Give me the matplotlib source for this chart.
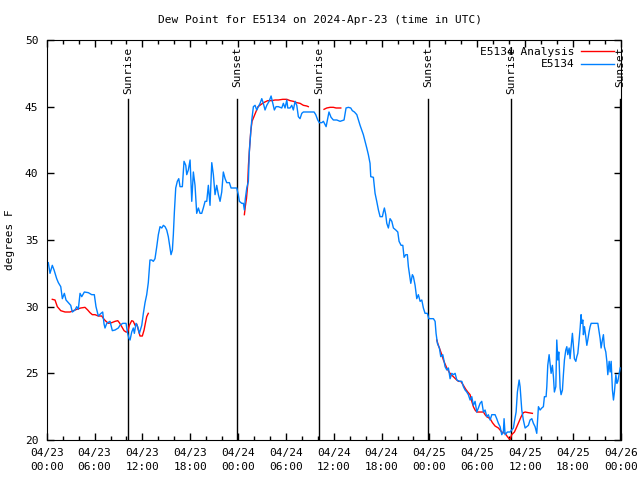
import numpy as np
import matplotlib.pyplot as plt

# hours since 2024-04-23 00:00 UTC, dew point (F)
obs_hours = [0.2, 0.41, 0.70, 0.92, 1.25, 1.46, 1.76, 1.96, 2.21, 2.42, 2.71, 3.01, 3.21, 3.55, 3.76, 3.96,
             4.18, 4.39, 4.72, 5.22, 5.64, 5.97, 6.18, 6.47, 6.81, 7.02, 7.19, 7.31, 7.53, 7.94, 8.23, 8.57,
             8.98, 9.19, 9.53, 9.95, 10.11, 10.32, 10.45, 10.66, 10.86, 10.99, 11.20, 11.41, 11.62, 11.92,
             12.12, 12.33, 12.54, 12.74, 12.95, 13.17, 13.37, 13.58, 13.80, 14.00, 14.21, 14.43, 14.63, 14.84,
             15.05, 15.25, 15.47, 15.59, 15.76, 15.88, 16.01, 16.18, 16.38, 16.56, 16.72, 17.01, 17.22, 17.44,
             17.56, 17.76, 17.98, 18.19, 18.39, 18.60, 18.81, 19.02, 19.23, 19.44, 19.64, 19.86, 20.07, 20.27,
             20.48, 20.70, 20.90, 21.11, 21.32, 21.53, 21.74, 21.95, 22.15, 22.37, 22.58, 22.91, 23.12, 23.41,
             23.83, 24.03, 24.16, 24.46, 24.66, 24.79, 24.91, 25.09, 25.29, 25.41, 25.59, 25.72, 25.92, 26.13,
             26.34, 26.54, 26.76, 26.97, 27.17, 27.38, 27.60, 27.89, 28.14, 28.35, 28.55, 28.76, 29.05, 29.48,
             29.68, 29.89, 30.11, 30.23, 30.52, 30.73, 30.93, 31.15, 31.36, 31.56, 31.77, 31.99, 32.19, 32.61,
             33.03, 33.53, 33.74, 33.99, 34.19, 34.50, 34.70, 35.04, 35.40, 35.66, 35.95, 36.38, 36.79, 37.29,
             37.54, 37.83, 38.13, 38.33, 38.59, 38.89, 39.09, 39.30, 39.51, 39.71, 39.93, 40.14, 40.34, 40.55,
             40.64, 40.97, 41.18, 41.39, 41.60, 41.81, 42.10, 42.22, 42.35, 42.52, 42.65, 42.85, 43.06, 43.28,
             43.48, 43.78, 44.03, 44.19, 44.44, 44.66, 44.82, 45.03, 45.23, 45.36, 45.57, 45.66, 45.86, 45.99,
             46.20, 46.41, 46.61, 46.83, 47.04, 47.24, 47.45, 47.74, 47.92, 48.29, 48.50, 48.71, 48.83, 49.00,
             49.25, 49.42, 49.67, 49.84, 49.96, 50.18, 50.38, 50.59, 50.80, 51.00, 51.22, 51.43, 51.76, 52.06,
             52.26, 52.47, 52.68, 52.88, 53.10, 53.31, 53.51, 53.72, 53.94, 54.14, 54.35, 54.56, 54.77, 54.98,
             55.19, 55.39, 55.61, 55.82, 56.23, 56.44, 56.65, 56.86, 57.07, 57.27, 57.36, 57.49, 57.78, 58.11,
             58.32, 58.53, 58.66, 58.87, 59.03, 59.25, 59.37, 59.58, 59.78, 60.00, 60.21, 60.41, 60.62, 60.84,
             61.04, 61.25, 61.46, 61.67, 61.88, 62.09, 62.29, 62.42, 62.63, 62.72, 62.84, 63.01, 63.13, 63.26,
             63.42, 63.55, 63.67, 63.85, 63.97, 64.10, 64.22, 64.39, 64.51, 64.68, 64.80, 64.93, 65.10, 65.23,
             65.35, 65.52, 65.64, 65.77, 65.93, 66.06, 66.18, 66.36, 66.48, 66.61, 66.77, 66.90, 67.02, 67.11,
             67.24, 67.31, 67.44, 67.61, 67.74, 67.86, 68.02, 68.15, 68.28, 69.12, 69.28, 69.41, 69.53, 69.69,
             69.82, 69.94, 70.12, 70.25, 70.37, 70.54, 70.66, 70.79, 70.95, 71.08, 71.20, 71.38, 71.51, 71.63,
             71.80, 71.92]
obs_dewpt = [33.3, 32.5, 33.1, 32.75, 32.1, 31.8, 31.5, 30.6, 31.0, 30.5, 30.3, 30.1, 29.6, 29.75, 30.0, 29.8,
             31.0, 30.75, 31.1, 31.05, 30.9, 30.9, 30.0, 29.3, 29.5, 29.6, 28.7, 28.4, 28.75, 28.9, 28.2, 28.25,
             28.4, 28.6, 28.75, 28.75, 28.1, 27.6, 27.5, 28.1, 28.4, 28.0, 28.75, 28.5, 28.0, 28.6,
             29.5, 30.3, 30.9, 31.8, 33.5, 33.5, 33.4, 33.6, 34.5, 35.4, 36.0, 35.9, 36.1, 36.0,
             35.75, 35.25, 34.4, 33.9, 34.25, 35.4, 37.1, 38.9, 39.4, 39.6, 39.0, 39.0, 40.9, 40.6,
             39.9, 40.25, 41.0, 37.9, 40.1, 39.1, 37.0, 37.4, 37.0, 37.0, 37.4, 37.9, 37.9, 39.1,
             37.6, 40.8, 39.9, 38.4, 39.1, 38.4, 37.9, 38.6, 40.1, 39.6, 39.3, 39.3, 38.9, 38.9,
             38.9, 38.4, 37.9, 37.75, 37.75, 37.25, 38.1, 38.9, 39.4, 41.6, 43.1, 44.0, 45.0, 45.1,
             44.75, 45.0, 45.25, 45.6, 45.25, 44.75, 45.1, 45.4, 45.8, 45.25, 44.75, 45.0, 45.0, 44.9,
             45.25, 44.9, 45.5, 44.9, 44.9, 45.1, 44.75, 45.4, 45.1, 44.25, 44.1, 44.5, 44.6, 44.6,
             44.6, 44.6, 44.4, 44.0, 43.8, 43.8, 43.9, 43.5, 44.6, 44.2, 44.0, 44.0, 43.9, 44.0,
             44.9, 44.95, 44.9, 44.7, 44.6, 44.4, 44.0, 43.6, 43.25, 42.9, 42.4, 41.9, 41.4, 40.75,
             39.75, 39.7, 38.5, 37.9, 37.25, 36.75, 36.75, 37.1, 37.4, 36.9, 36.25, 35.9, 36.6, 36.4,
             35.9, 35.75, 35.6, 34.9, 34.6, 34.6, 33.7, 33.9, 33.9, 33.0, 32.1, 31.75, 32.4, 32.25,
             31.6, 30.6, 30.9, 30.4, 30.5, 29.9, 29.5, 29.5, 29.1, 29.1, 29.1, 28.9, 28.0, 27.25,
             26.9, 26.25, 26.4, 25.9, 25.5, 25.25, 25.4, 24.6, 25.0, 24.9, 25.0, 24.5, 24.4, 24.4,
             24.0, 23.75, 23.6, 23.4, 23.0, 23.25, 22.6, 22.9, 22.1, 22.4, 22.75, 22.9, 22.1, 22.25,
             21.75, 21.9, 21.5, 21.9, 21.9, 21.6, 21.25, 21.0, 20.4, 20.6, 21.6, 20.4, 20.6, 20.6,
             20.75, 20.9, 21.4, 22.1, 23.6, 24.5, 24.0, 22.25, 21.5, 20.9, 21.0, 21.1, 21.5, 21.6,
             21.25, 21.0, 20.5, 22.5, 22.25, 22.4, 22.5, 23.25, 23.25, 24.0, 25.6, 26.4, 25.75, 25.0,
             25.6, 24.75, 23.6, 24.0, 27.5, 26.0, 26.6, 23.9, 23.4, 23.75, 24.9, 26.0, 26.75, 27.0,
             26.4, 26.9, 26.1, 27.0, 28.0, 27.0, 26.1, 25.9, 26.25, 26.5, 27.5, 28.4, 29.4, 28.75,
             29.0, 27.9, 28.5, 27.75, 27.1, 27.5, 28.1, 28.5, 28.75, 28.75, 28.1, 27.6, 26.9, 27.5,
             27.9, 27.0, 26.6, 25.9, 24.9, 25.9, 25.1, 25.9, 23.75, 23.0, 23.6, 24.9, 24.25, 24.4,
             25.0, 25.4]

# analysis series, in separate pieces (NaN = gap)
ana_hours = [0.70, 1.04, 1.33, 1.76, 2.30, 2.92, 3.34, 3.76, 4.26, 4.80, 5.14, 5.43, 5.72, 6.06, 6.47, 6.90,
             7.19, 7.44, 7.73, 8.15, 8.57, 8.91, 9.11, 9.41, 9.70, 9.95, 10.16, 10.36, 10.66, 10.86, 11.08,
             11.29, 11.49, 11.70, 11.99, 12.21, 12.37, 12.54, 12.74, np.nan,
             24.79, 24.90, 25.05, 25.20, 25.30, 25.45, 25.60, 25.75, 26.50, 27.20, 27.72, 28.22, 28.64, 29.05,
             29.60, 30.11, 30.52, 30.93, 31.36, 31.77, 32.19, 32.61, 32.81, np.nan,
             34.78, 35.12, 35.54, 35.95, 36.29, 36.88, np.nan,
             48.92, 49.12, 49.34, 49.55, 49.75, 49.96, 50.18, 50.46, 50.72, 51.00, 51.34, 51.63, 51.93, 52.26,
             52.56, 52.81, 53.10, 53.31, 53.51, 53.72, 53.94, 54.35, 54.77, 54.98, 55.19, 55.61, 55.90, 56.23,
             56.65, 57.07, 57.49, 57.78, 57.99, 58.11, 58.32, 58.66, 58.96, 59.25, 59.50, 59.78, 60.00, 60.41,
             60.91]
ana_dewpt = [30.55, 30.5, 30.0, 29.7, 29.6, 29.6, 29.7, 29.8, 29.9, 29.95, 29.75, 29.55, 29.4, 29.4, 29.3, 29.3,
             29.05, 28.9, 28.75, 28.8, 28.9, 28.95, 28.8, 28.5, 28.2, 28.1, 28.1, 28.6, 28.95, 28.9, 28.6,
             28.7, 28.25, 27.8, 27.8, 28.25, 28.75, 29.25, 29.5, np.nan,
             36.9, 37.5, 38.1, 39.1, 40.6, 42.0, 43.2, 43.9, 45.0, 45.3, 45.45, 45.45, 45.5, 45.5,
             45.55, 45.55, 45.45, 45.4, 45.3, 45.25, 45.1, 45.05, 45.0, np.nan,
             44.8, 44.9, 44.95, 44.95, 44.9, 44.9, np.nan,
             27.5, 27.1, 26.75, 26.4, 26.0, 25.7, 25.4, 25.1, 24.9, 24.75, 24.55, 24.4, 24.4, 24.1,
             23.8, 23.6, 23.4, 22.9, 22.5, 22.25, 22.1, 22.1, 22.1, 21.9, 21.75, 21.6, 21.3, 21.05,
             20.9, 20.6, 20.5, 20.25, 20.1, 20.05, 20.4, 20.6, 21.0, 21.4, 21.75, 22.05, 22.1, 22.05,
             22.0]

sun_hours = [10.24, 23.91, 34.2, 47.87, 58.24, 71.95]
sun_names = ["Sunrise", "Sunset", "Sunrise", "Sunset", "Sunrise", "Sunset"]

tick_hours = list(range(0, 73, 6))
tick_labels = ["04/23\n00:00", "04/23\n06:00", "04/23\n12:00", "04/23\n18:00",
               "04/24\n00:00", "04/24\n06:00", "04/24\n12:00", "04/24\n18:00",
               "04/25\n00:00", "04/25\n06:00", "04/25\n12:00", "04/25\n18:00", "04/26\n00:00"]

plt.rcParams['font.family'] = ['DejaVu Sans Mono']
plt.rcParams['font.size'] = 8

fig = plt.figure(figsize=(6.4, 4.8), dpi=100)
ax = fig.add_axes([0.073, 0.0833, 0.897, 0.8334])

for h, name in zip(sun_hours, sun_names):
    ax.plot([h, h], [20, 45.6], color='black', lw=1.0)
    ax.text(h, 49.5, name, rotation=90, ha='center', va='top', fontsize=8)

ax.plot(ana_hours, ana_dewpt, color='#ff0000', lw=1.0, label='E5134 Analysis')
ax.plot(obs_hours, obs_dewpt, color='#0080ff', lw=1.0, label='E5134')

ax.set_xlim(0, 72)
ax.set_ylim(20, 50)
ax.set_xticks(tick_hours)
ax.set_xticklabels(tick_labels, linespacing=1.5)
ax.set_xticks(range(0, 73, 2), minor=True)
ax.set_yticks(range(20, 51, 5))
ax.tick_params(direction='in', top=True, right=True, length=5, width=1, labelsize=8, pad=6)
ax.tick_params(which='minor', direction='in', top=True, length=3, width=1)
fig.text(10 / 640, 0.5, 'degrees F', rotation=90, ha='center', va='center', fontsize=8)
fig.text(0.5, 1 - 20 / 480, 'Dew Point for E5134 on 2024-Apr-23 (time in UTC)',
         ha='center', va='center', fontsize=8)

leg = ax.legend(loc='upper right', frameon=False, markerfirst=False, handlelength=3.0,
                borderaxespad=0.2, labelspacing=0.25, handletextpad=0.6, fontsize=8)
for t in leg.get_texts():
    t.set_ha('right')

fig.savefig('out.png', dpi=100)
